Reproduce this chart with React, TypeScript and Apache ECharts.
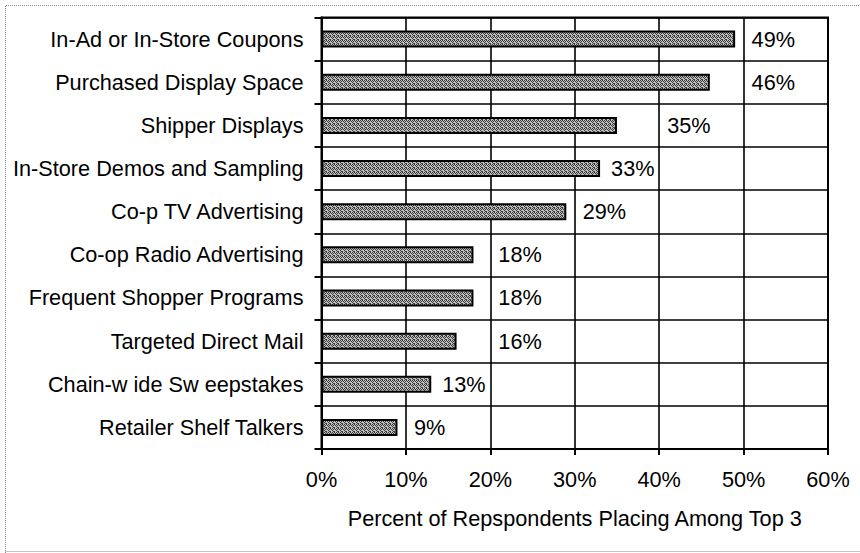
import React, { useEffect, useRef } from "react";
import * as echarts from "echarts";

const CATEGORIES = [
  "In-Ad or In-Store Coupons",
  "Purchased Display Space",
  "Shipper Displays",
  "In-Store Demos and Sampling",
  "Co-p TV Advertising",
  "Co-op Radio Advertising",
  "Frequent Shopper Programs",
  "Targeted Direct Mail",
  "Chain-w ide Sw eepstakes",
  "Retailer Shelf Talkers",
];
const VALUES = [49, 46, 35, 33, 29, 18, 18, 16, 13, 9];
const X_TICKS = [0, 10, 20, 30, 40, 50, 60];
const AXIS_TITLE = "Percent of Repspondents Placing Among Top 3";

const FONT = "'Liberation Sans', Arial, Helvetica, sans-serif";
const FS = 21.7;

// irregular dither cell for the stippled bar fill
const DITHER = [
  "1010",
  "0101",
  "1000",
  "0110",
];

function makePattern(): HTMLCanvasElement {
  const c = document.createElement("canvas");
  c.width = 4;
  c.height = 4;
  const ctx = c.getContext("2d")!;
  ctx.fillStyle = "#bdbdbd";
  ctx.fillRect(0, 0, 4, 4);
  ctx.fillStyle = "#3c3c3c";
  DITHER.forEach((row, y) => {
    row.split("").forEach((ch, x) => {
      if (ch === "1") ctx.fillRect(x, y, 1, 1);
    });
  });
  return c;
}

export default function App() {
  const ref = useRef<HTMLDivElement>(null);
  useEffect(() => {
    document.body.style.margin = "0";
    const chart = echarts.init(ref.current!, undefined, { renderer: "svg" });
    const pattern = makePattern();
    chart.setOption({
      animation: false,
      backgroundColor: "#ffffff",
      textStyle: { fontFamily: FONT },
      graphic: [
        {
          type: "polyline",
          shape: { points: [[5.5, 553], [5.5, 5.5], [860, 5.5]] },
          style: { stroke: "#8a8a8a", lineWidth: 1, lineDash: [1, 1], fill: "none" },
          silent: true,
        },
        {
          type: "line",
          shape: { x1: 5.5, y1: 551.5, x2: 860, y2: 551.5 },
          style: { stroke: "#8a8a8a", lineWidth: 1, lineDash: [1, 1] },
          silent: true,
        },
      ],
      grid: {
        left: 321.5,
        right: 32,
        top: 17.5,
        bottom: 104,
        show: true,
        borderColor: "#000",
        borderWidth: 2,
        containLabel: false,
      },
      xAxis: {
        type: "value",
        min: X_TICKS[0],
        max: X_TICKS[X_TICKS.length - 1],
        interval: 10,
        axisLine: { show: true, lineStyle: { color: "#000", width: 2 } },
        axisTick: { show: true, length: 6, lineStyle: { color: "#000", width: 2 } },
        splitLine: { show: true, lineStyle: { color: "#000", width: 1.6 } },
        axisLabel: {
          formatter: "{value}%",
          color: "#000",
          fontSize: FS,
          fontFamily: FONT,
          margin: 19,
        },
        name: AXIS_TITLE,
        nameLocation: "middle",
        nameGap: 58,
        nameTextStyle: { color: "#000", fontSize: FS, fontFamily: FONT },
      },
      yAxis: {
        type: "category",
        inverse: true,
        data: CATEGORIES,
        axisLine: { show: true, lineStyle: { color: "#000", width: 2 } },
        axisTick: { show: true, length: 7, lineStyle: { color: "#000", width: 2 } },
        splitLine: { show: true, lineStyle: { color: "#000", width: 1.6 } },
        axisLabel: {
          color: "#000",
          fontSize: FS,
          fontFamily: FONT,
          margin: 18,
        },
      },
      series: [
        {
          type: "bar",
          data: VALUES,
          barWidth: 17,
          itemStyle: {
            color: { image: pattern, repeat: "repeat" },
            borderColor: "#000",
            borderWidth: 2,
          },
          label: {
            show: true,
            position: "right",
            distance: 11,
            formatter: "{c}%",
            color: "#000",
            fontSize: FS,
            fontFamily: FONT,
          },
          labelLayout: (p: any) => {
            const rect = p.rect;
            const lr = p.labelRect;
            const v = VALUES[p.dataIndex];
            const ppu = rect.width / v;
            let x = lr.x;
            const w = lr.width;
            for (const t of X_TICKS) {
              const gx = rect.x + t * ppu;
              if (x < gx + 5 && x + w > gx - 4) x = gx + 8;
            }
            return { x, y: lr.y + lr.height / 2, align: "left", verticalAlign: "middle" };
          },
        },
      ],
    });
    return () => chart.dispose();
  }, []);
  return <div ref={ref} style={{ width: 860, height: 553 }} />;
}
